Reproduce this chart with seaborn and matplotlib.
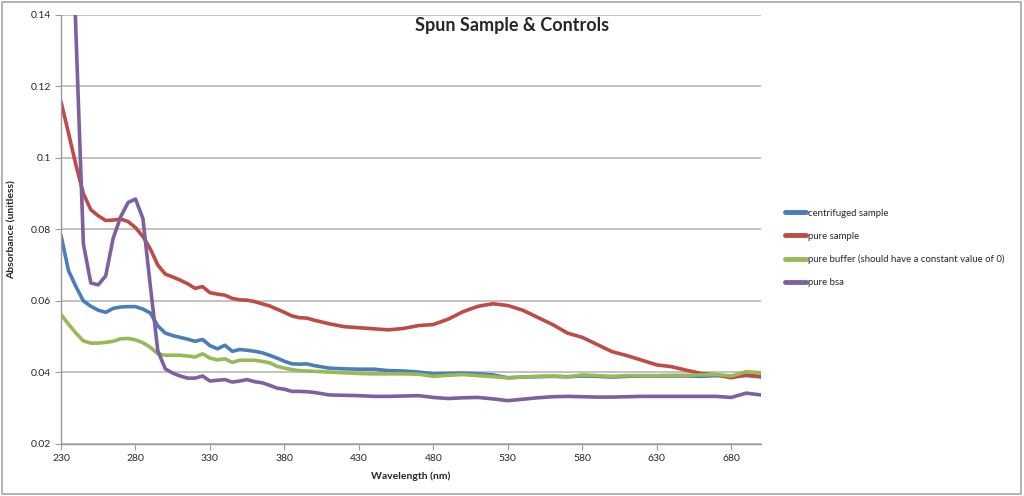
import numpy as np
import pandas as pd
import matplotlib
matplotlib.use("Agg")
import matplotlib.pyplot as plt
import seaborn as sns
from matplotlib.ticker import FuncFormatter

# wavelength grid (nm)
wavelength = list(range(230, 400, 5)) + list(range(400, 701, 10))

centrifuged = [0.0783, 0.0685, 0.0640, 0.0600, 0.0585, 0.0574, 0.0568, 0.0579, 0.0583, 0.0584,
               0.0584, 0.0577, 0.0566, 0.0530, 0.0510, 0.0503, 0.0498, 0.0493, 0.0487, 0.0492,
               0.0475, 0.0466, 0.0476, 0.0459, 0.0464, 0.0462, 0.0459, 0.0455, 0.0448, 0.0440,
               0.0431, 0.0424, 0.0423, 0.0424,
               0.0419, 0.0412, 0.0410, 0.0409, 0.0409, 0.0405, 0.0404, 0.0401, 0.0396, 0.0397,
               0.0398, 0.0396, 0.0393, 0.0385, 0.0387, 0.0388, 0.0389, 0.0388, 0.0390, 0.0389,
               0.0387, 0.0389, 0.0390, 0.0390, 0.0390, 0.0390, 0.0389, 0.0391, 0.0390, 0.0391,
               0.0389]

pure_sample = [0.1157, 0.1070, 0.0980, 0.0900, 0.0855, 0.0838, 0.0825, 0.0826, 0.0829, 0.0822,
               0.0805, 0.0780, 0.0745, 0.0700, 0.0675, 0.0667, 0.0658, 0.0648, 0.0635, 0.0640,
               0.0623, 0.0619, 0.0616, 0.0607, 0.0603, 0.0602, 0.0598, 0.0592, 0.0586, 0.0577,
               0.0568, 0.0558, 0.0553, 0.0552,
               0.0546, 0.0536, 0.0528, 0.0525, 0.0522, 0.0519, 0.0523, 0.0531, 0.0534, 0.0549,
               0.0570, 0.0585, 0.0592, 0.0587, 0.0574, 0.0554, 0.0534, 0.0510, 0.0498, 0.0478,
               0.0458, 0.0447, 0.0434, 0.0421, 0.0416, 0.0406, 0.0397, 0.0393, 0.0385, 0.0393,
               0.0387]

pure_buffer = [0.0562, 0.0535, 0.0510, 0.0488, 0.0482, 0.0482, 0.0484, 0.0487, 0.0494, 0.0495,
               0.0491, 0.0483, 0.0470, 0.0452, 0.0448, 0.0448, 0.0448, 0.0446, 0.0443, 0.0452,
               0.0440, 0.0435, 0.0438, 0.0428, 0.0434, 0.0434, 0.0434, 0.0431, 0.0427, 0.0417,
               0.0412, 0.0408, 0.0405, 0.0404,
               0.0403, 0.0401, 0.0399, 0.0397, 0.0396, 0.0396, 0.0396, 0.0395, 0.0389, 0.0392,
               0.0394, 0.0391, 0.0388, 0.0385, 0.0387, 0.0389, 0.0390, 0.0387, 0.0393, 0.0391,
               0.0389, 0.0391, 0.0391, 0.0391, 0.0392, 0.0392, 0.0393, 0.0394, 0.0390, 0.0402,
               0.0399]

pure_bsa = [0.2600, 0.2000, 0.1350, 0.0760, 0.0650, 0.0645, 0.0670, 0.0775, 0.0835, 0.0875,
            0.0885, 0.0830, 0.0640, 0.0460, 0.0410, 0.0398, 0.0390, 0.0384, 0.0384, 0.0390,
            0.0376, 0.0378, 0.0380, 0.0373, 0.0376, 0.0380, 0.0374, 0.0371, 0.0364, 0.0356,
            0.0353, 0.0347, 0.0347, 0.0346,
            0.0344, 0.0337, 0.0336, 0.0335, 0.0333, 0.0333, 0.0334, 0.0335, 0.0330, 0.0327,
            0.0329, 0.0330, 0.0326, 0.0321, 0.0325, 0.0329, 0.0332, 0.0333, 0.0332, 0.0331,
            0.0331, 0.0332, 0.0333, 0.0333, 0.0333, 0.0333, 0.0333, 0.0333, 0.0330, 0.0342,
            0.0337]

series_names = ["centrifuged sample", "pure sample",
                "pure buffer (should have a constant value of 0)", "pure bsa"]
series_colors = ["#4A7EBB", "#BE4B48", "#98B954", "#7D60A0"]

# long format for seaborn
frames = []
for name, vals in zip(series_names, [centrifuged, pure_sample, pure_buffer, pure_bsa]):
    frames.append(pd.DataFrame({"wavelength": wavelength, "absorbance": vals, "series": name}))
df = pd.concat(frames, ignore_index=True)

sns.set_style("white")
plt.rcParams["font.family"] = ["Lato", "DejaVu Sans"]

fig = plt.figure(figsize=(10.24, 4.96), dpi=100)
ax = fig.add_axes([0.0596, 0.105, 0.6836, 0.865])

sns.lineplot(data=df, x="wavelength", y="absorbance", hue="series",
             hue_order=series_names, palette=series_colors, linewidth=2.6,
             ax=ax, estimator=None, sort=False)
for line in ax.get_lines():
    line.set_solid_joinstyle("round")
    line.set_solid_capstyle("round")

ax.set_xlim(230, 700)
ax.set_ylim(0.02, 0.14)
ax.set_xticks(range(230, 700, 50))
ax.set_yticks([0.02, 0.04, 0.06, 0.08, 0.10, 0.12, 0.14])
ax.yaxis.set_major_formatter(FuncFormatter(lambda v, p: f"{v:g}"))
ax.yaxis.grid(True, color="#BDBDBD", linewidth=1.3)
ax.set_axisbelow(True)

for s in ["top", "right"]:
    ax.spines[s].set_visible(False)
for s in ["left", "bottom"]:
    ax.spines[s].set_color("#9A9A9A")
    ax.spines[s].set_linewidth(1.0)
ax.tick_params(axis="both", which="major", direction="out", length=4, width=0.8,
               color="#9A9A9A", labelsize=7.5, pad=3, bottom=True, left=True)

ax.set_xlabel("Wavelength (nm)", fontsize=7.5, fontweight="bold", labelpad=6)
ax.set_ylabel("Absorbance (unitless)", fontsize=7.5, fontweight="bold", labelpad=10)

fig.text(0.5, 0.948, "Spun Sample & Controls", ha="center", va="center",
         fontsize=13, fontweight="bold")

leg = ax.legend(loc="center left", bbox_to_anchor=(1.022, 0.457), frameon=False,
                fontsize=6.9, handlelength=2.2, handletextpad=0.15, labelspacing=1.45)
for h in leg.legend_handles:
    h.set_linewidth(3.5)

# outer chart border
fig.patches.append(plt.Rectangle((0.002, 0.004), 0.995, 0.992, transform=fig.transFigure,
                                 fill=False, edgecolor="#A6A6A6", linewidth=1.2))

fig.savefig("out.png", dpi=100)
